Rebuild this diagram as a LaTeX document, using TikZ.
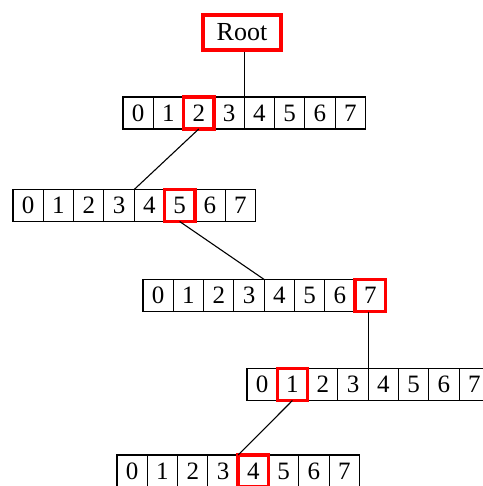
\documentclass[tikz,border=0pt]{standalone}
\usepackage{fontspec}
\setmainfont{Liberation Serif}
\usetikzlibrary{positioning}
\tikzset{
  cell/.style={draw, line width=1.1pt, inner sep=0pt, outer sep=0pt,
    minimum width=30.3pt, minimum height=32pt, font=\fontsize{25}{25}\selectfont},
  hit/.style={draw=red, line width=3.5pt},
  link/.style={line width=1.1pt}}
\begin{document}
\begin{tikzpicture}[x=1pt,y=-1pt]
\useasboundingbox (0,0) rectangle (482,486);

\node[hit, inner sep=0pt, minimum width=78pt, minimum height=35pt,
  font=\fontsize{26}{26}\selectfont] (root) at (242,32.5) {Root};

% one row of cells 0..7 per level
\foreach \r/\x/\y in {a/123/113, b/13/205.5, c/143/295.5, d/247/384.5, e/117/471} {
  \node[cell] (\r0) at (\x+15.15,\y) {0};
  \foreach \i [remember=\i as \j (initially 0)] in {1,...,7}
    \node[cell, right=0pt of \r\j] (\r\i) {\i};
}

% chosen slots
\draw[hit] (a2.north west) rectangle (a2.south east);
\draw[hit] (b5.north west) rectangle (b5.south east);
\draw[hit] (c7.north west) rectangle (c7.south east);
\draw[hit] (d1.north west) rectangle (d1.south east);
\draw[hit] (e4.north west) rectangle (e4.south east);

\draw[link] (a3.north east |- root.south) -- (a3.north east);
\draw[link] (a2.south) -- (b3.north east);
\draw[link] (b5.south) -- (c3.north east);
\draw[link] (d3.north east |- c7.south) -- (d3.north east);
\draw[link] (d1.south) -- (e3.north east);
\end{tikzpicture}
\end{document}
